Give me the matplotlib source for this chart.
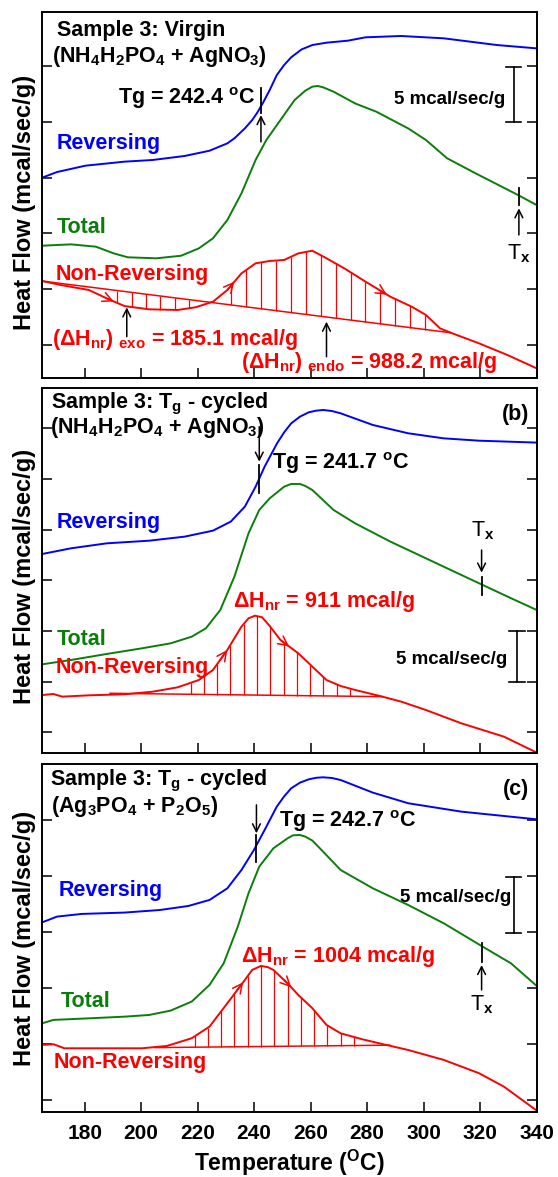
"""Sample 3 MDSC scans: reversing, total and non-reversing heat flow, 3 panels."""
import numpy as np
import matplotlib

matplotlib.use("Agg")
import matplotlib.pyplot as plt

plt.rcParams["font.family"] = ["Liberation Sans", "DejaVu Sans"]
plt.rcParams["font.weight"] = "bold"
plt.rcParams["mathtext.default"] = "regular"
plt.rcParams["mathtext.fontset"] = "custom"
plt.rcParams["mathtext.bf"] = "Liberation Sans:bold"

_BLUE = "#0000ff"
_GREEN = "#0b7d0b"
_RED = "#ff0000"
_LW = 1.4
_FS = 15.5

# ---------------------------------------------------------------------------
# Data (temperature in C, heat flow in mcal/sec/g, arbitrary offsets)
# ---------------------------------------------------------------------------

# (a) virgin
rev_a_t = [165, 170.2, 180.3, 194.1, 204.1, 215.4, 224.2, 230.5, 233.0, 236.7, 239.3,
           241.1, 243.0, 245.5, 248.0, 250.6, 253.1, 256.8, 260.6, 265.6, 273.2, 279.4,
           292.0, 307.1, 325.9, 340]
rev_a_v = [15.0, 15.5, 16.07, 16.43, 16.58, 16.94, 17.41, 18.07, 18.52, 19.41, 20.16,
           20.82, 21.65, 22.85, 24.19, 25.09, 25.78, 26.49, 26.88, 27.09, 27.27, 27.57,
           27.69, 27.48, 26.88, 26.58]
tot_a_t = [165, 175.2, 184.0, 190.3, 195.3, 205.4, 214.1, 220.4, 225.4, 230.5, 235.5,
           240.5, 244.3, 249.3, 254.3, 258.1, 260.6, 262.5, 264.4, 268.1, 275.7, 283.2,
           294.5, 300.8, 308.3, 318.4, 333.4, 340]
tot_a_v = [8.9, 9.02, 8.81, 8.21, 7.86, 7.77, 8.0, 8.66, 9.56, 11.2, 13.59,
           16.58, 18.37, 20.16, 21.95, 22.79, 23.15, 23.21, 23.09, 22.7, 21.65, 20.91,
           19.41, 18.37, 16.73, 15.38, 13.44, 12.54]
nr_a_t = [165, 171.5, 181.5, 187.8, 194.1, 202.8, 212.9, 219.2, 225.4, 230.5, 235.5,
          240.5, 245.5, 250.6, 255.6, 260.6, 265.6, 271.9, 279.4, 288.2, 295.8, 300.8,
          305.8, 309.6, 319.6, 329.7, 340]
nr_a_v = [5.73, 5.38, 4.93, 4.18, 3.49, 3.2, 3.14, 3.38, 3.88, 4.93, 6.42,
          7.32, 7.53, 7.62, 8.21, 8.45, 7.77, 6.87, 5.68, 4.33, 3.43, 2.69,
          1.49, 1.1, 0.15, -0.9, -2.09]
base_a_t = [165, 309.6]
base_a_v = [5.73, 1.1]

# (b) Tg-cycled, NH4H2PO4 + AgNO3
rev_b_t = [165, 175.2, 187.8, 202.8, 215.4, 225.4, 231.7, 236.7, 240.5, 243.7, 248.1,
           250.6, 253.1, 256.2, 259.3, 261.9, 264.4, 267.5, 270.6, 282.0, 294.5, 307.1,
           319.6, 340]
rev_b_v = [17.6, 18.16, 18.65, 18.91, 19.31, 19.9, 20.79, 22.27, 24.24, 26.22, 28.52,
           29.6, 30.49, 31.15, 31.58, 31.74, 31.81, 31.71, 31.48, 30.33, 29.51, 29.01,
           28.78, 28.59]
tot_b_t = [165, 175.2, 187.8, 200.3, 210.4, 217.9, 222.9, 228.0, 233.0, 238.0, 241.8,
           245.5, 250.6, 253.1, 256.2, 258.1, 260.6, 268.1, 275.7, 288.2, 300.8, 313.3,
           320.9, 329.7, 340]
tot_b_v = [6.71, 7.14, 7.73, 8.29, 8.78, 9.44, 10.26, 12.07, 15.36, 19.64, 21.94,
           23.09, 24.24, 24.51, 24.51, 24.31, 23.91, 21.94, 20.63, 18.82, 17.17, 15.53,
           14.54, 13.39, 12.07]
nr_b_t = [165, 168.9, 172.1, 181.5, 194.1, 204.1, 212.9, 220.4, 225.4, 230.5, 233.0,
          235.5, 238.0, 240.3, 242.8, 245.5, 249.3, 255.6, 260.6, 265.6, 270.6, 275.7,
          284.4, 292.0, 300.8, 313.3, 328.4, 340]
nr_b_v = [3.68, 3.78, 3.52, 3.65, 3.75, 4.01, 4.44, 5.16, 6.15, 8.13, 9.28,
          10.43, 11.25, 11.51, 11.35, 10.49, 9.11, 7.8, 6.48, 5.16, 4.57, 4.18,
          3.59, 3.03, 2.2, 0.89, -0.43, -2.0]
base_b_t = [189, 285.7]
base_b_v = [3.85, 3.52]

# (c) Tg-cycled, Ag3PO4 + P2O5
rev_c_t = [165, 170.2, 179.0, 194.1, 206.6, 216.7, 224.2, 230.5, 235.5, 239.9, 243.7,
           248.0, 250.6, 253.1, 256.2, 259.3, 262.0, 264.4, 267.5, 270.6, 282.0, 294.5,
           313.3, 340]
rev_c_v = [15.89, 16.4, 16.64, 16.76, 16.99, 17.35, 17.89, 18.93, 20.57, 22.36, 24.15,
           26.24, 27.15, 27.88, 28.38, 28.68, 28.82, 28.86, 28.8, 28.62, 27.49, 26.54,
           25.79, 25.1]
tot_c_t = [165, 169.0, 181.5, 194.1, 202.8, 210.4, 217.9, 224.2, 229.2, 234.2, 238.0,
           241.8, 246.8, 251.8, 253.7, 256.2, 258.1, 260.6, 264.4, 270.6, 282.0, 294.5,
           307.1, 320.9, 330.9, 340]
tot_c_v = [6.86, 7.16, 7.3, 7.45, 7.6, 7.99, 8.8, 10.29, 12.22, 15.5, 18.49,
           20.87, 22.51, 23.4, 23.67, 23.7, 23.55, 23.2, 22.21, 20.57, 18.93, 17.44,
           15.8, 13.71, 12.22, 10.2]
nr_c_t = [165, 169.0, 172.8, 181.5, 200.3, 209.1, 217.9, 224.2, 230.5, 236.7, 239.3,
          242.4, 244.9, 246.8, 249.3, 251.8, 255.6, 260.6, 265.6, 270.6, 278.2, 285.7,
          294.5, 307.1, 319.6, 328.4, 340]
nr_c_v = [4.92, 4.98, 4.62, 4.62, 4.62, 4.83, 5.52, 6.56, 8.65, 10.73, 11.63,
          11.99, 11.87, 11.63, 11.03, 10.44, 9.39, 8.2, 6.71, 5.96, 5.43, 4.98,
          4.47, 3.58, 2.39, 1.19, -0.95]
base_c_t = [205, 288]
base_c_v = [4.68, 4.9]

x_ticks = [180, 200, 220, 240, 260, 280, 300, 320, 340]


# ---------------------------------------------------------------------------
# Helpers
# ---------------------------------------------------------------------------

def _setup_axes(ax, ylim, yticks, show_x):
    ax.set_xlim(165, 340)
    ax.set_ylim(*ylim)
    ax.set_xticks(x_ticks)
    ax.set_yticks(yticks)
    ax.tick_params(direction="in", length=7.5, width=1.1, left=True, right=True,
                   top=False, labelleft=False, labelbottom=show_x,
                   labelsize=15, pad=9)
    for sp in ax.spines.values():
        sp.set_linewidth(1.4)
    ax.set_ylabel("Heat Flow (mcal/sec/g)", fontsize=17, fontweight="bold")


def _hatch(ax, pos, base_t, base_v, t, v):
    """Vertical hatch lines between baseline and non-reversing curve."""
    ax.vlines(pos, np.interp(pos, base_t, base_v), np.interp(pos, t, v),
              color=_RED, lw=0.9)


def _curve_arrows(ax, t, v, where, back=2.5):
    for at in where:
        ax.annotate("", xy=(at, np.interp(at, t, v)),
                    xytext=(at - back, np.interp(at - back, t, v)),
                    arrowprops=dict(arrowstyle="->", color=_RED, lw=1.1,
                                    mutation_scale=17, shrinkA=0, shrinkB=0))


def _up_arrow(ax, t, tail, head):
    ax.annotate("", xy=(t, head), xytext=(t, tail),
                arrowprops=dict(arrowstyle="->", color="black", lw=1.1,
                                mutation_scale=14, shrinkA=0, shrinkB=0))


def _marker(ax, t, seg, tail, head):
    """Short vertical tick across a curve plus a pointing arrow."""
    ax.plot([t, t], seg, color="black", lw=1.3)
    _up_arrow(ax, t, tail, head)


def _scale_bar(ax, t, lo, hi, half=2.8):
    ax.plot([t, t], [lo, hi], color="black", lw=1.2)
    ax.plot([t - half, t + half], [lo, lo], color="black", lw=1.2)
    ax.plot([t - half, t + half], [hi, hi], color="black", lw=1.2)


def _curves(ax, rev, tot, nr):
    ax.plot(*rev, color=_BLUE, lw=_LW)
    ax.plot(*tot, color=_GREEN, lw=_LW)
    ax.plot(*nr, color=_RED, lw=_LW)


# ---------------------------------------------------------------------------
# Figure
# ---------------------------------------------------------------------------

fig = plt.figure(figsize=(5.58, 11.77), dpi=100)
ax_a = fig.add_axes([0.0758, 0.6786, 0.886, 0.3115])
ax_b = fig.add_axes([0.0758, 0.3600, 0.886, 0.3101])
ax_c = fig.add_axes([0.0758, 0.0555, 0.886, 0.2952])

# ---- (a) ----
ax = ax_a
_setup_axes(ax, (-2.98, 29.87), [0, 5, 10, 15, 20, 25], False)
_curves(ax, (rev_a_t, rev_a_v), (tot_a_t, tot_a_v), (nr_a_t, nr_a_v))
ax.plot(base_a_t, base_a_v, color=_RED, lw=1.1)
_hatch(ax, np.arange(191.5, 219, 5.1), base_a_t, base_a_v, nr_a_t, nr_a_v)
_hatch(ax, np.arange(231.7, 301, 5.3), base_a_t, base_a_v, nr_a_t, nr_a_v)
_curve_arrows(ax, nr_a_t, nr_a_v, [190.3, 233.0, 287.0])
_marker(ax, 242.4, [20.8, 23.0], 18.2, 20.6)
_marker(ax, 333.7, [12.54, 14.04], 9.86, 12.25)
_up_arrow(ax, 194.9, 0.75, 3.37)
_up_arrow(ax, 265.6, -1.05, 2.09)
_scale_bar(ax, 331.8, 19.98, 24.94)
ax.text(170.2, 27.69, "Sample 3: Virgin", fontsize=_FS)
ax.text(168.3, 25.39, "(NH$_4$H$_2$PO$_4$ + AgNO$_3$)", fontsize=_FS)
ax.text(240.3, 21.6, "Tg = 242.4 $^o$C", fontsize=_FS, ha="right")
ax.text(329.0, 21.6, "5 mcal/sec/g", fontsize=13.5, ha="right")
ax.text(333.7, 7.68, "T$_\\mathbf{x}$", fontsize=_FS, fontweight="normal", ha="center")
ax.text(170.0, 17.53, "Reversing", fontsize=_FS, color=_BLUE)
ax.text(170.0, 10.0, "Total", fontsize=_FS, color=_GREEN)
ax.text(169.6, 5.82, "Non-Reversing", fontsize=_FS, color=_RED)
ax.text(168.3, 0.0, "(\u0394H$_{nr}$)$_{\\ exo}$ = 185.1 mcal/g", fontsize=_FS, color=_RED)
ax.text(235.5, -2.09, "(\u0394H$_{nr}$)$_{\\ endo}$ = 988.2 mcal/g", fontsize=_FS, color=_RED)
ax.yaxis.set_label_coords(-0.012, 0.48)

# ---- (b) ----
ax = ax_b
_setup_axes(ax, (-2.07, 33.95), [0, 5, 10, 15, 20, 25, 30], False)
_curves(ax, (rev_b_t, rev_b_v), (tot_b_t, tot_b_v), (nr_b_t, nr_b_v))
ax.plot(base_b_t, base_b_v, color=_RED, lw=1.1)
_hatch(ax, np.arange(217.5, 276, 4.7), base_b_t, base_b_v, nr_b_t, nr_b_v)
_curve_arrows(ax, nr_b_t, nr_b_v, [230.5, 252.4])
_marker(ax, 241.8, [23.59, 26.38], 30.16, 26.71)
_marker(ax, 320.5, [13.55, 15.36], 17.99, 15.76)
_scale_bar(ax, 333.0, 4.93, 10.03)
ax.text(168.1, 31.97, "Sample 3: T$_g$ - cycled", fontsize=_FS)
ax.text(167.7, 29.55, "(NH$_4$H$_2$PO$_4$ + AgNO$_3$)", fontsize=_FS)
ax.text(337.2, 30.82, "(b)", fontsize=_FS, ha="right")
ax.text(246.2, 25.95, "Tg = 241.7 $^o$C", fontsize=_FS)
ax.text(329.7, 6.74, "5 mcal/sec/g", fontsize=13.5, ha="right")
ax.text(320.8, 19.31, "T$_\\mathbf{x}$", fontsize=_FS, fontweight="normal", ha="center")
ax.text(170.2, 20.13, "Reversing", fontsize=_FS, color=_BLUE)
ax.text(170.2, 8.62, "Total", fontsize=_FS, color=_GREEN)
ax.text(169.6, 5.82, "Non-Reversing", fontsize=_FS, color=_RED)
ax.text(232.4, 12.4, "\u0394H$_{nr}$ = 911 mcal/g", fontsize=_FS, color=_RED)
ax.yaxis.set_label_coords(-0.012, 0.484)

# ---- (c) ----
ax = ax_c
_setup_axes(ax, (-1.05, 30.03), [0, 5, 10, 15, 20, 25], True)
_curves(ax, (rev_c_t, rev_c_v), (tot_c_t, tot_c_v), (nr_c_t, nr_c_v))
ax.plot(base_c_t, base_c_v, color=_RED, lw=1.1)
_hatch(ax, np.arange(218.9, 276, 4.7), base_c_t, base_c_v, nr_c_t, nr_c_v)
_curve_arrows(ax, nr_c_t, nr_c_v, [236.1, 253.1])
_marker(ax, 240.8, [21.32, 23.7], 26.39, 23.85)
_marker(ax, 320.5, [12.37, 14.01], 9.84, 12.07)
_scale_bar(ax, 331.8, 14.97, 19.92)
ax.text(167.7, 28.17, "Sample 3: T$_g$ - cycled", fontsize=_FS)
ax.text(168.1, 25.79, "(Ag$_3$PO$_4$ + P$_2$O$_5$)", fontsize=_FS)
ax.text(337.2, 27.28, "(c)", fontsize=_FS, ha="right")
ax.text(248.7, 24.45, "Tg = 242.7 $^o$C", fontsize=_FS)
ax.text(330.9, 17.74, "5 mcal/sec/g", fontsize=13.5, ha="right")
ax.text(320.5, 8.05, "T$_\\mathbf{x}$", fontsize=_FS, fontweight="normal", ha="center")
ax.text(170.8, 18.25, "Reversing", fontsize=_FS, color=_BLUE)
ax.text(171.7, 8.35, "Total", fontsize=_FS, color=_GREEN)
ax.text(169.0, 2.83, "Non-Reversing", fontsize=_FS, color=_RED)
ax.text(235.2, 12.37, "\u0394H$_{nr}$ = 1004 mcal/g", fontsize=_FS, color=_RED)
ax.set_xlabel("Temperature ($^O$C)", fontsize=16.5, fontweight="bold", labelpad=3)
ax.yaxis.set_label_coords(-0.012, 0.499)

fig.savefig("out.png", dpi=100)
